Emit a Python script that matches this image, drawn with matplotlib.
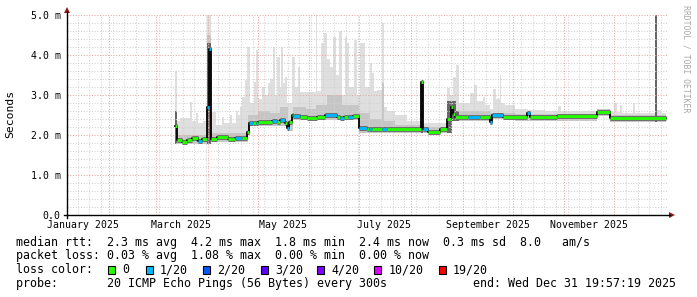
import numpy as np
import matplotlib
matplotlib.use("Agg")
import matplotlib.pyplot as plt
from matplotlib.patches import Rectangle, Polygon
from matplotlib.lines import Line2D

# ---------------- data (x in day-of-year 2025, Jan 1 = 0; y in milliseconds) -------------
x_start, x_end = 5.6, 365.6
data_end = 365.0

month_start_days = [0, 31, 59, 90, 120, 151, 181, 212, 243, 273, 304, 334]
label_months = [0, 2, 4, 6, 8, 10]
month_labels = ["January 2025", "March 2025", "May 2025", "July 2025",
                "September 2025", "November 2025"]
first_monday = 5

y_ticks = [0, 1, 2, 3, 4, 5]
y_tick_labels = ["0.0", "1.0 m", "2.0 m", "3.0 m", "4.0 m", "5.0 m"]

# median rtt, step segments (start day, value, loss index)
median_day = [70.4, 71.6, 74.6, 77.6, 80.6, 84.2, 86.6, 89.6, 90.8, 92.0, 95.6, 102.2,
              106.4, 110.6, 113.6, 114.8, 117.2, 119.0, 120.2, 128.6, 131.6, 133.4,
              136.4, 137.6, 138.8, 140.6, 141.2, 145.4, 149.6, 155.6, 160.4, 167.6,
              169.4, 171.8, 174.2, 177.2, 180.8, 185.6, 186.8, 188.6, 194.6, 197.6,
              218.0, 219.2, 222.2, 229.4, 233.6, 236.0, 237.2, 238.4, 246.2, 253.4,
              259.4, 260.6, 267.2, 281.6, 283.4, 299.6, 323.6, 331.4]
median_val = [2.22, 1.87, 1.83, 1.87, 1.92, 1.85, 1.90, 2.71, 4.14, 1.89, 1.96, 1.91,
              1.92, 1.93, 2.08, 2.31, 2.29, 2.31, 2.32, 2.35, 2.33, 2.375,
              2.31, 2.17, 2.33, 2.50, 2.475, 2.46, 2.42, 2.46, 2.50, 2.44,
              2.42, 2.44, 2.44, 2.475, 2.17, 2.15, 2.15, 2.15, 2.16, 2.14,
              3.33, 2.16, 2.07, 2.15, 2.40, 2.69, 2.525, 2.44, 2.44, 2.46,
              2.33, 2.50, 2.46, 2.54, 2.44, 2.475, 2.575, 2.43]
median_loss = [0, 0, 0, 0, 0, 1, 0, 1, 1, 0, 0, 0,
               1, 0, 0, 1, 0, 1, 0, 1, 0, 1,
               0, 1, 0, 0, 1, 0, 0, 0, 1, 0,
               1, 0, 1, 0, 1, 0, 1, 0, 1, 0,
               0, 1, 0, 0, 0, 0, 0, 0, 1, 0,
               1, 1, 0, 1, 0, 0, 0, 0]

# smoke: largest ping (light grey envelope)
smoke_max_day = [70.4, 71.6, 73.4, 79.4, 80.6, 83.0, 84.2, 87.2, 89.6, 92.0, 95.0, 98.6,
                 99.8, 103.4, 104.6, 107.0, 108.2, 109.4, 110.6, 112.4, 113.6, 115.4,
                 117.8, 119.0, 120.2, 122.6, 124.4, 126.2, 127.4, 129.2, 130.4, 131.6,
                 133.4, 134.0, 135.2, 136.4, 137.6, 140.6, 142.4, 144.2, 145.4, 155.0,
                 155.6, 158.0, 159.8, 161.6, 163.4, 165.2, 167.0, 168.8, 170.6, 172.4,
                 173.6, 174.8, 177.8, 179.6, 181.4, 184.4, 187.4, 188.6, 189.8, 191.6,
                 194.6, 195.8, 197.6, 202.4, 209.6, 218.0, 219.2, 233.6, 235.4, 237.2,
                 239.0, 240.8, 247.4, 249.8, 251.6, 255.2, 256.4, 259.4, 261.2, 263.0,
                 265.4, 266.0, 268.4, 274.4, 282.2, 292.4, 300.2, 302.0, 323.6, 331.4,
                 333.8, 335.6, 337.4, 338.6, 345.2, 346.4, 358.4, 359.6, 362.0]
smoke_max_val = [3.6, 2.35, 2.43, 2.83, 2.35, 2.55, 2.3, 2.35, 5.0, 2.58, 2.25, 2.45,
                 2.3, 2.5, 2.3, 2.6, 2.5, 2.7, 2.96, 3.38, 4.2, 2.8,
                 3.33, 4.12, 2.9, 3.2, 3.0, 3.3, 3.4, 4.2, 3.0, 3.96,
                 3.2, 4.2, 3.3, 3.46, 2.8, 3.96, 3.2, 3.7, 3.08, 5.0,
                 3.1, 4.3, 4.54, 3.9, 3.7, 4.46, 3.5, 4.6, 3.0, 4.46,
                 4.3, 3.2, 4.38, 3.0, 4.3, 3.2, 3.79, 3.55, 3.1, 3.12,
                 4.79, 2.7, 2.6, 2.5, 2.35, 3.35, 2.3, 3.17, 3.0, 3.46,
                 3.75, 2.8, 3.05, 3.25, 2.85, 2.95, 2.75, 2.65, 3.14, 2.9,
                 3.5, 2.8, 2.75, 2.65, 2.62, 2.6, 2.72, 2.6, 2.66, 2.58,
                 2.8, 2.58, 2.75, 2.55, 2.8, 2.55, 5.0, 2.62, 2.55]

# smoke: middle pings (medium grey)
smoke_mid_day = [70.4, 71.6, 89.6, 92.0, 114.2, 120.2, 127.4, 133.4, 138.2, 141.2,
                 149.0, 155.0, 161.6, 170.6, 180.8, 187.4, 194.6, 195.8, 202.4, 218.0,
                 219.2, 233.6, 239.0, 259.4, 274.4, 323.6, 331.4, 358.4, 359.6]
smoke_mid_val = [2.6, 2.0, 4.5, 2.05, 2.5, 2.6, 2.55, 2.7, 2.35, 2.7,
                 2.65, 2.75, 3.0, 2.75, 2.55, 2.4, 3.3, 2.35, 2.25, 3.3,
                 2.2, 2.8, 2.6, 2.55, 2.53, 2.64, 2.49, 4.9, 2.49]

# smoke: dense pings at the outliers (dark grey)
smoke_dark_day = [70.4, 71.6, 89.6, 92.0, 218.0, 219.2, 233.6, 239.0, 240.8, 358.4, 359.6]
smoke_dark_val = [2.6, 0.0, 4.3, 0.0, 3.3, 0.0, 2.85, 2.6, 0.0, 5.0, 0.0]

# smoke: smallest ping
smoke_min_day = [70.4, 92.0, 114.2, 115.4, 138.2, 141.2, 180.8, 233.6, 236.6, 259.4,
                 261.2, 274.4, 323.6, 331.4]
smoke_min_val = [1.78, 1.82, 2.0, 2.22, 2.1, 2.38, 2.05, 2.05, 2.35, 2.28,
                 2.4, 2.36, 2.48, 2.33]

loss_colors = ["#26ff00", "#00b8ff", "#0059ff", "#5e00ff", "#7e00ff", "#dd00ff", "#ff0000"]
loss_labels = ["0", "1/20", "2/20", "3/20", "4/20", "10/20", "19/20"]

legend_lines = [
    "median rtt:  2.3 ms avg  4.2 ms max  1.8 ms min  2.4 ms now  0.3 ms sd  8.0   am/s",
    "packet loss: 0.03 % avg  1.08 % max  0.00 % min  0.00 % now",
    "loss color:",
    "probe:       20 ICMP Echo Pings (56 Bytes) every 300s",
]
end_text = "end: Wed Dec 31 19:57:19 2025"

# ---------------- figure ----------------
W, H = 697, 297
def fx(px):
    return px / W
def fy(py):
    return 1 - py / H

MONO = "DejaVu Sans Mono"
fig = plt.figure(figsize=(W / 100, H / 100), dpi=100)
fig.patch.set_facecolor("white")
ax = fig.add_axes([fx(67), fy(215), 600 / W, 200 / H])
ax.set_xlim(x_start, x_end)
ax.set_ylim(0, 5)
ax.axis("off")

def step_at(days, vals, x):
    idx = np.searchsorted(np.asarray(days), x, side="right") - 1
    idx = np.clip(idx, 0, len(vals) - 1)
    return np.asarray(vals, dtype=float)[idx]

xs = np.union1d(np.union1d(smoke_max_day, smoke_mid_day),
                np.union1d(smoke_min_day, smoke_dark_day))
xs = np.append(xs, data_end)
lo = step_at(smoke_min_day, smoke_min_val, xs)
hi = step_at(smoke_max_day, smoke_max_val, xs)
mid = step_at(smoke_mid_day, smoke_mid_val, xs)
dark = step_at(smoke_dark_day, smoke_dark_val, xs)
ax.fill_between(xs, lo, hi, step="post", color="#dfdfdf", lw=0, zorder=1)
ax.fill_between(xs, lo, np.maximum(mid, lo), step="post", color="#c6c6c6", lw=0, zorder=1.2)
ax.fill_between(xs, lo, np.maximum(dark, lo), step="post", color="#666666", lw=0, zorder=1.4)

# grid
dash = (0, (1.0, 1.6))
for v in np.arange(0.2, 5.01, 0.2):
    if abs(v - round(v)) < 1e-6:
        ax.axhline(v, color="#eba6a6", lw=0.75, ls=dash, zorder=2)
    else:
        ax.axhline(v, color="#d2d2d2", lw=0.75, ls=dash, zorder=2)
for d in range(first_monday, 366, 7):
    if x_start < d < x_end and d not in month_start_days:
        ax.axvline(d, color="#d2d2d2", lw=0.75, ls=dash, zorder=2)
for d in month_start_days:
    if x_start < d < x_end:
        ax.axvline(d, color="#eba6a6", lw=0.75, ls=dash, zorder=2)

# median
m_end = list(median_day[1:]) + [data_end]
ax.hlines(median_val, median_day, m_end, color="#6a6a6a", lw=3.5, zorder=3)
ax.plot(list(median_day) + [data_end], list(median_val) + [median_val[-1]],
        drawstyle="steps-post", color="black", lw=1.3, zorder=4)
ax.hlines(median_val, median_day, m_end,
          color=[loss_colors[i] for i in median_loss], lw=2.1, zorder=5)

# axes lines and arrows
fig.add_artist(Line2D([fx(64), fx(670)], [fy(215), fy(215)], color="black", lw=1.0))
fig.add_artist(Line2D([fx(67), fx(67)], [fy(218), fy(12)], color="black", lw=1.0))
arrow_c = "#8b1a1a"
fig.add_artist(Polygon([[fx(64), fy(13)], [fx(70), fy(13)], [fx(67), fy(7)]],
                       closed=True, color=arrow_c, lw=0))
fig.add_artist(Polygon([[fx(669), fy(212)], [fx(669), fy(218)], [fx(675), fy(215)]],
                       closed=True, color=arrow_c, lw=0))

# tick labels
for v, lab in zip(y_ticks, y_tick_labels):
    py = 215 - v * 40
    fig.text(fx(60.5), fy(py + 3.6), lab, ha="right", va="baseline",
             family=MONO, fontsize=7.1, color="black")
for mi, lab in zip(label_months, month_labels):
    d = month_start_days[mi] + 15
    px = 67 + (d - x_start) / (x_end - x_start) * 600
    fig.text(fx(px), fy(227.5), lab, ha="center", va="baseline",
             family=MONO, fontsize=7.1, color="black")

fig.text(fx(10.5), fy(114), "Seconds", rotation=90, ha="center", va="center",
         family=MONO, fontsize=8.2, color="black")
fig.text(fx(686), fy(59), "RRDTOOL / TOBI OETIKER", rotation=270, ha="center",
         va="center", family=MONO, fontsize=5.9, color="#a8a8a8")

# legend
for i, line in enumerate(legend_lines):
    fig.text(fx(16), fy(245.6 + 13.9 * i), line, ha="left", va="baseline",
             family=MONO, fontsize=8.4, color="black")
fig.text(fx(473.3), fy(245.6 + 13.9 * 3), end_text, ha="left", va="baseline",
         family=MONO, fontsize=8.4, color="black")
box_x = [108.3, 145.7, 203.3, 260.5, 317.2, 374.4, 438.6]
for bx, c, lab in zip(box_x, loss_colors, loss_labels):
    fig.add_artist(Rectangle((fx(bx), fy(273.5)), 7 / W, 8 / H, facecolor=c,
                             edgecolor="black", lw=0.8))
    fig.text(fx(bx + 14.3), fy(245.6 + 13.9 * 2), lab, ha="left", va="baseline",
             family=MONO, fontsize=8.4, color="black")

fig.savefig("out.png", dpi=100, facecolor="white")
